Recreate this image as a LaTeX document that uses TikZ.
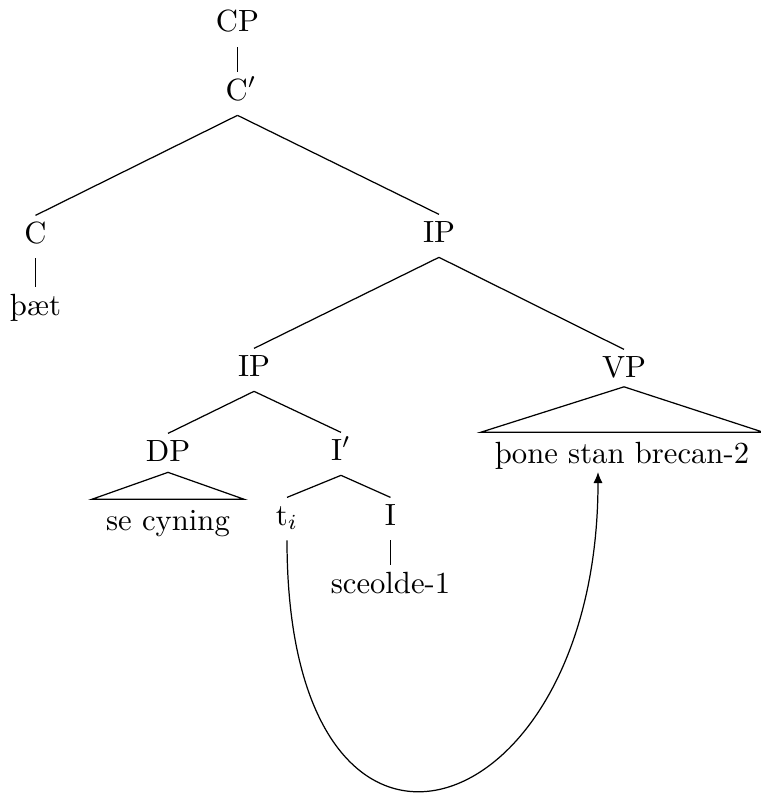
\documentclass[tikz,border=0pt]{standalone}
\usepackage{fontspec}
\usetikzlibrary{arrows.meta}
\begin{document}
\begin{tikzpicture}[x=0.326pt,y=-0.326pt,
  lab/.style={anchor=base, inner xsep=2pt, inner ysep=2pt, text height=6.8pt, text depth=2.8pt},
  roofleaf/.style={anchor=base, inner xsep=4.5pt, inner ysep=0pt, text height=9.8pt, text depth=3pt},
  edge/.style={line width=0.4pt},
  mv/.style={line width=0.4pt, -{Latex[length=3.6pt,width=3pt]}}]
\useasboundingbox (0,0) rectangle (760,794);
\node[lab] (cp) at (237.5,32) {CP};
\node[lab] (cb) at (241,100) {C$'$};
\node[lab] (c) at (35.5,243) {C};
\node[lab] (thaet) at (35.5,315) {þæt};
\node[lab] (ip1) at (439,242) {IP};
\node[lab] (ip2) at (254,376) {IP};
\node[lab] (vp) at (624,377) {VP};
\node[lab] (dp) at (168,461) {DP};
\node[lab] (ib) at (341,460) {I$'$};
\node[roofleaf] (sc) at (168,530) {se cyning};
\node[lab] (ti) at (287,525) {t$_i$};
\node[lab] (i) at (390.5,525) {I};
\node[lab] (sceolde) at (390.5,593) {sceolde-1};
\node[roofleaf] (vpl) at (622,463) {þone stan brecan-2};

\draw[edge] (cp.south) -- (cp.south |- cb.north);
\draw[edge] (cp.south |- cb.south) -- (c.north);
\draw[edge] (cp.south |- cb.south) -- (ip1.north);
\draw[edge] (c.south) -- (thaet.north);
\draw[edge] (ip1.south) -- (ip2.north);
\draw[edge] (ip1.south) -- (vp.north);
\draw[edge] (ip2.south) -- (dp.north);
\draw[edge] (ip2.south) -- (ib.north);
\draw[edge] ([yshift=1.3pt]dp.south) -- (sc.north west) -- (sc.north east) -- cycle;
\draw[edge] (ib.south) -- (ti.north);
\draw[edge] (ib.south) -- (i.north);
\draw[edge] (i.south) -- (sceolde.north);
\draw[edge] ([yshift=1.8pt]vp.south) -- (vpl.north west) -- (vpl.north east) -- cycle;
\draw[mv] (ti.south) .. controls +(0,390) and +(0,360) .. ([shift={(-24,9)}]vpl.base);
\end{tikzpicture}
\end{document}
